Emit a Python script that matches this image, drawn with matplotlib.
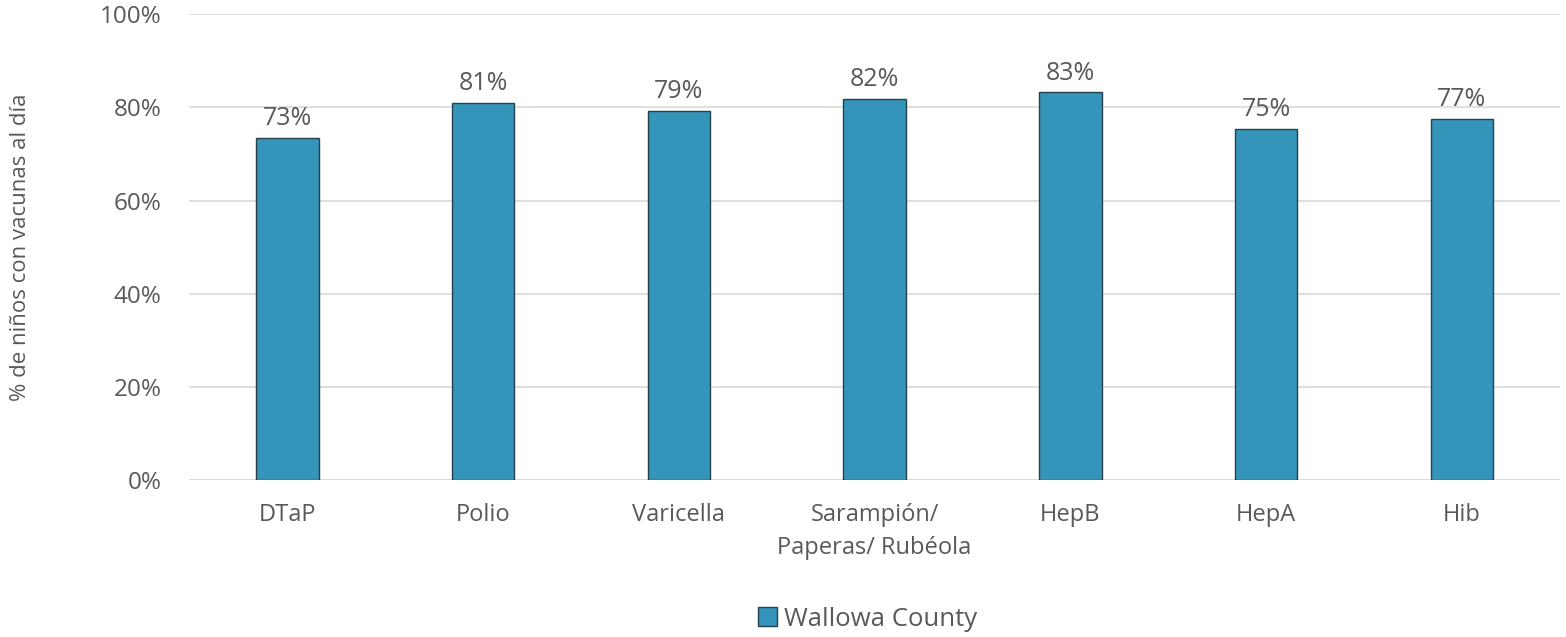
import matplotlib.pyplot as plt
import numpy as np

plt.rcParams['font.family'] = ['Open Sans', 'DejaVu Sans']

categories = ['DTaP', 'Polio', 'Varicella', 'Sarampión/\nPaperas/ Rubéola', 'HepB', 'HepA', 'Hib']
values = [73.5, 81.0, 79.3, 81.8, 83.2, 75.4, 77.5]
labels = ['73%', '81%', '79%', '82%', '83%', '75%', '77%']
yticks = [0, 20, 40, 60, 80, 100]

text_color = '#595959'
bar_color = '#3494ba'
edge_color = '#26404d'

fig = plt.figure(figsize=(15.66, 6.37), dpi=100)
ax = fig.add_axes([0.121, 0.246, 0.875, 0.732])

x = np.arange(len(categories))
bars = ax.bar(x, values, width=0.32, color=bar_color, edgecolor=edge_color,
              linewidth=1, label='Wallowa County', zorder=3)

for xi, v, lab in zip(x, values, labels):
    ax.text(xi, v + 1.4, lab, ha='center', va='bottom', fontsize=18, color=text_color, zorder=4)

ax.set_xlim(-0.5, len(categories) - 0.5)
ax.set_ylim(0, 100)
ax.set_yticks(yticks)
ax.set_yticklabels([f'{t}%' for t in yticks])
ax.set_xticks(x)
ax.set_xticklabels(categories, linespacing=1.5)
ax.tick_params(axis='both', length=0, labelsize=17, colors=text_color)
ax.tick_params(axis='x', pad=16)
ax.tick_params(axis='y', labelsize=17.5, pad=20)
ax.grid(axis='y', color='#d9d9d9', linewidth=1.2, zorder=0)
for s in ax.spines.values():
    s.set_visible(False)
ax.axhline(0, color='#d9d9d9', linewidth=1.2, zorder=1)

ax.set_ylabel('% de niños con vacunas al día', fontsize=16, color=text_color)
ax.yaxis.set_label_coords(-0.116, 0.5)

fig.legend(handles=[bars], labels=['Wallowa County'], loc='center', bbox_to_anchor=(0.554, 0.028),
           frameon=False, fontsize=18.5, labelcolor=text_color, handlelength=0.74, handleheight=0.74,
           handletextpad=0.25)

fig.savefig('out.png', dpi=100)
